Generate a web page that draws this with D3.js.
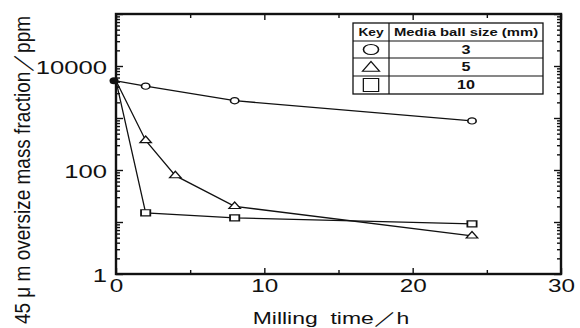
<!DOCTYPE html>
<html>
<head>
<meta charset="utf-8">
<script src="https://cdn.jsdelivr.net/npm/d3@7"></script>
<style>
  body { margin: 0; background: #fff; }
  svg { display: block; }
  text { font-family: "Liberation Sans", Arial, sans-serif; fill: #111; }
</style>
</head>
<body>
<svg id="chart" width="580" height="328"></svg>
<script>
// milling time (h) and oversize fraction (ppm) per media ball size
const times3 = [0, 2, 8, 24];
const ppm3 = [5200, 4100, 2150, 880];
const times5 = [0, 2, 4, 8, 24];
const ppm5 = [5200, 370, 78, 20, 5.4];
const times10 = [0, 2, 8, 24];
const ppm10 = [5200, 15, 12, 9.2];

const legendKeys = ["circle", "triangle", "square"];
const ballSizes = ["3", "5", "10"];

const xTicks = [0, 10, 20, 30];
const xMinor = [5, 15, 25];
const yTicks = [1, 10, 100, 1000, 10000, 100000];
const yLabelled = [1, 100, 10000];

const svg = d3.select("#chart");
const X0 = 116, X1 = 561, Y0 = 274, Y1 = 14;
const STRETCH = 1.35; // picture is wider than tall, glyphs look stretched

const x = d3.scaleLinear().domain([0, 30]).range([X0, X1]);
const y = d3.scaleLog().domain([1, 100000]).range([Y0, Y1]);

const yMinor = [];
for (let p = 0; p < 5; p++) for (let m = 2; m < 10; m++) yMinor.push(m * Math.pow(10, p));

// stretch a text horizontally around its own x
function stretch(sel, k) {
  sel.each(function () {
    const t = d3.select(this);
    const tx = +t.attr("x") || 0;
    t.attr("transform", `translate(${tx},0) scale(${k},1) translate(${-tx},0)`);
  });
}

function styleAxis(g) {
  g.select(".domain").remove();
  g.selectAll("line").attr("stroke", "#111").attr("stroke-width", 1.4);
}

// left axis
const gl = svg.append("g").attr("transform", `translate(${X0},0)`)
  .call(d3.axisLeft(y).tickValues(yTicks).tickSize(-7).tickPadding(9)
    .tickFormat(d => yLabelled.includes(d) ? d : ""));
styleAxis(gl);
gl.selectAll("text").attr("font-size", 19).attr("dy", "0.42em").call(stretch, STRETCH);
svg.append("g").attr("transform", `translate(${X0},0)`)
  .call(d3.axisLeft(y).tickValues(yMinor).tickSize(-4).tickFormat(""))
  .call(styleAxis);

// right axis
svg.append("g").attr("transform", `translate(${X1},0)`)
  .call(d3.axisRight(y).tickValues(yTicks).tickSize(-7).tickFormat(""))
  .call(styleAxis);
svg.append("g").attr("transform", `translate(${X1},0)`)
  .call(d3.axisRight(y).tickValues(yMinor).tickSize(-4).tickFormat(""))
  .call(styleAxis);

// bottom axis
const gb = svg.append("g").attr("transform", `translate(0,${Y0})`)
  .call(d3.axisBottom(x).tickValues(xTicks).tickSize(-6).tickPadding(5));
styleAxis(gb);
gb.selectAll("text").attr("font-size", 18).call(stretch, STRETCH);
svg.append("g").attr("transform", `translate(0,${Y0})`)
  .call(d3.axisBottom(x).tickValues(xMinor).tickSize(-4).tickFormat(""))
  .call(styleAxis);

// top axis
svg.append("g").attr("transform", `translate(0,${Y1})`)
  .call(d3.axisTop(x).tickValues(xTicks).tickSize(-6).tickFormat(""))
  .call(styleAxis);
svg.append("g").attr("transform", `translate(0,${Y1})`)
  .call(d3.axisTop(x).tickValues(xMinor).tickSize(-4).tickFormat(""))
  .call(styleAxis);

// frame
svg.append("rect")
  .attr("x", X0).attr("y", Y1).attr("width", X1 - X0).attr("height", Y0 - Y1)
  .attr("fill", "none").attr("stroke", "#111").attr("stroke-width", 2.4);

// series
const series = [
  { key: "circle", t: times3, v: ppm3 },
  { key: "triangle", t: times5, v: ppm5 },
  { key: "square", t: times10, v: ppm10 }
];
const symbolType = { circle: d3.symbolCircle, triangle: d3.symbolTriangle, square: d3.symbolSquare };
const markSize = { circle: 30, triangle: 34, square: 38 };
const markScale = { circle: [1.35, 1], triangle: [1.3, 0.85], square: [1.5, 1] };

const line = d3.line().x(d => x(d[0])).y(d => y(d[1]));

series.forEach(s => {
  const pts = s.t.map((t, i) => [t, s.v[i]]);
  svg.append("path").datum(pts)
    .attr("d", line)
    .attr("fill", "none").attr("stroke", "#111").attr("stroke-width", 1.3);
  svg.append("g").selectAll("path")
    .data(pts.slice(1))
    .enter().append("path")
    .attr("d", d3.symbol().type(symbolType[s.key]).size(markSize[s.key]))
    .attr("transform", d => `translate(${x(d[0])},${y(d[1])}) scale(${markScale[s.key][0]},${markScale[s.key][1]})`)
    .attr("fill", "#fff").attr("stroke", "#111").attr("stroke-width", 1.2);
});

// common starting point
svg.append("ellipse")
  .attr("cx", x(times3[0]) - 2).attr("cy", y(ppm3[0]))
  .attr("rx", 4.5).attr("ry", 3.5).attr("fill", "#111");

// legend table
const lg = svg.append("g");
const LX0 = 353, LX1 = 543, LXD = 389, rowsY = [23, 41, 58, 76, 94];
lg.append("rect").attr("x", LX0).attr("y", rowsY[0])
  .attr("width", LX1 - LX0).attr("height", rowsY[4] - rowsY[0])
  .attr("fill", "#fff").attr("stroke", "#111").attr("stroke-width", 1.3);
rowsY.slice(1, 4).forEach(ry => {
  lg.append("line").attr("x1", LX0).attr("x2", LX1).attr("y1", ry).attr("y2", ry)
    .attr("stroke", "#111").attr("stroke-width", 1.2);
});
lg.append("line").attr("x1", LXD).attr("x2", LXD).attr("y1", rowsY[0]).attr("y2", rowsY[4])
  .attr("stroke", "#111").attr("stroke-width", 1.2);

lg.append("text").attr("x", (LX0 + LXD) / 2).attr("y", 36)
  .attr("text-anchor", "middle").attr("font-size", 11).attr("font-weight", "bold")
  .text("Key").call(stretch, 1.25);
lg.append("text").attr("x", (LXD + LX1) / 2).attr("y", 36)
  .attr("text-anchor", "middle").attr("font-size", 11).attr("font-weight", "bold")
  .text("Media ball size (mm)").call(stretch, STRETCH);

const legSize = { circle: 70, triangle: 60, square: 150 };
const legScale = { circle: [1.6, 1.05], triangle: [1.45, 0.95], square: [1.25, 1.05] };
legendKeys.forEach((k, i) => {
  const cy = (rowsY[i + 1] + rowsY[i + 2]) / 2;
  lg.append("path")
    .attr("d", d3.symbol().type(symbolType[k]).size(legSize[k]))
    .attr("transform", `translate(${(LX0 + LXD) / 2},${cy + (k === "triangle" ? 1 : 0)}) scale(${legScale[k][0]},${legScale[k][1]})`)
    .attr("fill", "none").attr("stroke", "#111").attr("stroke-width", 1);
  lg.append("text").attr("x", (LXD + LX1) / 2).attr("y", cy + 4.5)
    .attr("text-anchor", "middle").attr("font-size", 12).attr("font-weight", "bold")
    .text(ballSizes[i]).call(stretch, STRETCH);
});

// axis titles
svg.append("text").attr("x", 331).attr("y", 324)
  .attr("text-anchor", "middle").attr("font-size", 17)
  .attr("xml:space", "preserve")
  .text("Milling  time／h").call(stretch, STRETCH);

svg.append("text")
  .attr("transform", `translate(30,170) scale(${STRETCH},1) rotate(-90)`)
  .attr("text-anchor", "middle").attr("font-size", 17)
  .attr("textLength", 308).attr("lengthAdjust", "spacingAndGlyphs")
  .text("45 μ m oversize mass fraction／ppm");
</script>
</body>
</html>
